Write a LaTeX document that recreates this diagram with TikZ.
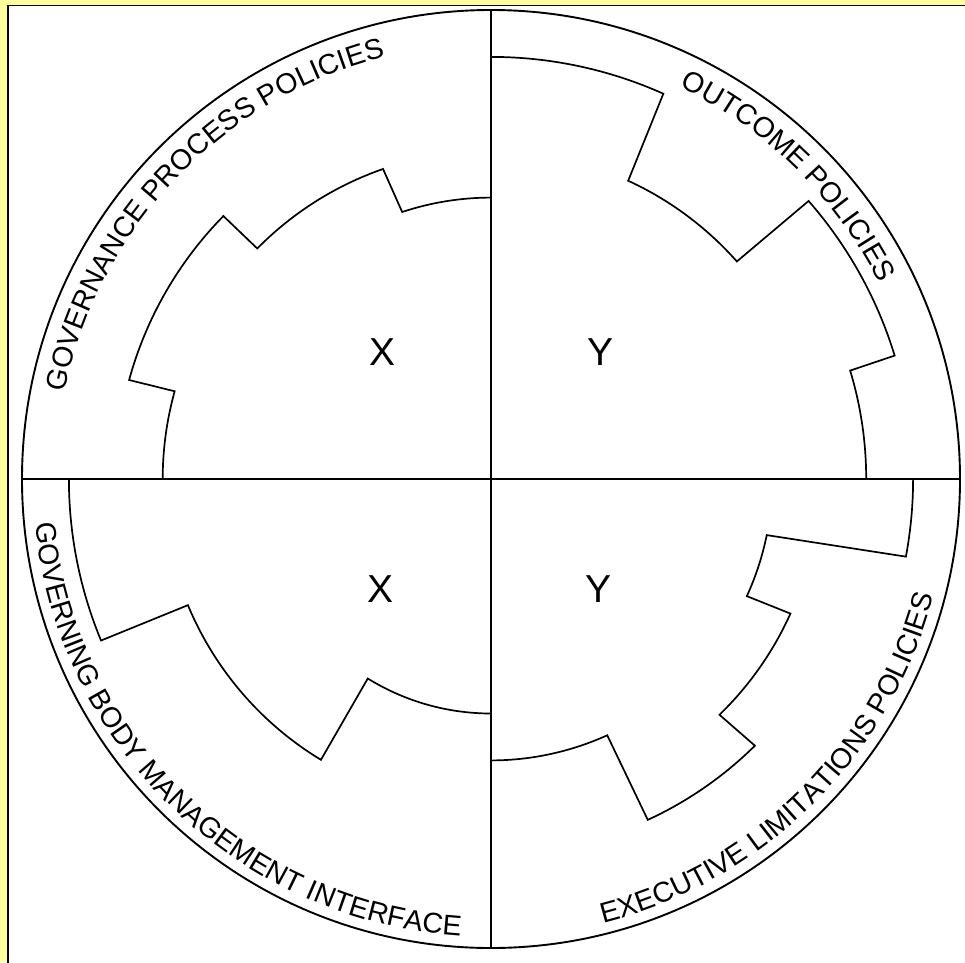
\documentclass[tikz,border=0pt]{standalone}
\usepackage{fontspec}
\setmainfont{Liberation Sans}
\usetikzlibrary{decorations.text}
\definecolor{paper}{RGB}{255,255,160}
\newcommand\ringfont{\fontsize{28.5}{28.5}\selectfont}
\newcommand\sectorfont{\fontsize{39}{39}\selectfont}
\begin{document}
\begin{tikzpicture}[x=1pt,y=1pt,
  rim/.style={line width=1.9pt},
  gear/.style={line width=1.7pt, line join=miter},
  ringtext/.style={decorate, decoration={text along path, text align=center, text={|\ringfont|#1}}},
  sector/.style={font=\sectorfont, inner sep=0pt}]
\useasboundingbox (-491,-483) rectangle (474,479);
% page: pale yellow margin, white sheet with a dark edge on the left and top
\fill[paper] (-491,-483) rectangle (474,479);
\fill[white] (-483,-490) rectangle (480,473.5);
\draw[line width=1.8pt] (-483,-490) -- (-483,473.5) -- (480,473.5);

% outer ring and the two dividing axes
\node[rim, draw, circle, minimum size=938pt, inner sep=0pt] (dial) at (0,0) {};
\draw[rim] (dial.north) -- (dial.south);
\draw[rim] (dial.west) -- (dial.east);

% stepped outlines, one per quadrant (radii are tenths of the ring)
\draw[gear] (90:281.4) arc[start angle=90, end angle=108.4, radius=281.4]
  -- (109.2:328.3) arc[start angle=109.2, end angle=135.4, radius=328.3]
  -- (135.5:375.2) arc[start angle=135.5, end angle=164.7, radius=375.2]
  -- (164.5:328.3) arc[start angle=164.5, end angle=180, radius=328.3];

\draw[gear] (90:422.1) arc[start angle=90, end angle=65.9, radius=422.1]
  -- (65.3:328.3) arc[start angle=65.3, end angle=41.5, radius=328.3]
  -- (41.2:422.1) arc[start angle=41.2, end angle=17.0, radius=422.1]
  -- (16.8:375.2) arc[start angle=16.8, end angle=0, radius=375.2];

\draw[gear] (180:422.1) arc[start angle=180, end angle=202.5, radius=422.1]
  -- (202.6:328.3) arc[start angle=202.6, end angle=238.8, radius=328.3]
  -- (238.3:234.5) arc[start angle=238.3, end angle=270, radius=234.5];

\draw[gear] (0:422.1) arc[start angle=0, end angle=-10.6, radius=422.1]
  -- (-11.5:281.4) arc[start angle=-11.5, end angle=-24.6, radius=281.4]
  -- (-24.2:328.3) arc[start angle=-24.2, end angle=-45.9, radius=328.3]
  -- (-45.3:375.2) arc[start angle=-45.3, end angle=-65.3, radius=375.2]
  -- (-65.6:281.4) arc[start angle=-65.6, end angle=-90, radius=281.4];

% labels running round the ring
\path[ringtext={GOVERNANCE PROCESS POLICIES}] (176.25:435) arc[start angle=176.25, end angle=96.25, radius=435];
\path[ringtext={OUTCOME POLICIES}] (85.5:435) arc[start angle=85.5, end angle=5.5, radius=435];
\path[ringtext={GOVERNING BODY MANAGEMENT INTERFACE}] (175.9:458) arc[start angle=175.9, end angle=275.9, radius=458];
\path[ringtext={EXECUTIVE LIMITATIONS POLICIES}] (-85.3:458) arc[start angle=-85.3, end angle=-5.3, radius=458];

% quadrant letters
\node[sector] (xtop) at (-108.5,126.5) {X};
\node[sector] (ytop) at (109.5,126.5) {Y};
\node[sector] (xbot) at (-110,-110) {X};
\node[sector] (ybot) at (107.5,-110) {Y};
\end{tikzpicture}
\end{document}
